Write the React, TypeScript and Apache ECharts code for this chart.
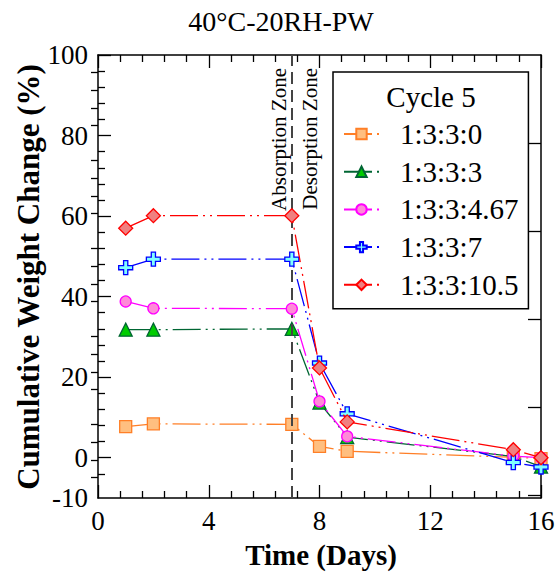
import React, { useEffect, useRef } from "react";
import * as echarts from "echarts";

const days = [1, 2, 7, 8, 9, 15, 16];
const seriesNames = ["1:3:3:0", "1:3:3:3", "1:3:3:4.67", "1:3:3:7", "1:3:3:10.5"];
const v0 = [7.7, 8.4, 8.3, 2.8, 1.6, 0.1, -0.2];
const v3 = [31.8, 31.8, 32.0, 13.7, 5.1, 0.3, -2.2];
const v467 = [38.8, 37.1, 37.0, 14.0, 5.3, 0.4, 0.0];
const v7 = [47.2, 49.3, 49.3, 23.5, 10.9, -1.2, -2.3];
const v105 = [57.0, 60.1, 60.1, 22.3, 8.9, 2.0, 0.0];

const xTicks = [0, 4, 8, 12, 16];
const yLabels = [-10, 0, 20, 40, 60, 80, 100];
const yMajor = [0, 20, 40, 60, 80, 100];
const yMinor = [-4, 4, 8, 12, 16, 24, 28, 32, 36, 44, 48, 52, 56, 64, 68, 72, 76, 84, 88, 92, 96];
const rightMajor = [78.15, 56.3, 34.45, 12.6, -9.25];
const rightMinor = [95.63, 91.26, 86.89, 82.52, 73.78, 69.41, 65.04, 60.67, 51.93, 47.56, 43.19, 38.82, 30.08, 25.71, 21.34, 16.97, 8.23, 3.86, -0.51, -4.88];

const FONT = "Liberation Serif";
const crossPath = "path://M3.5,0 H6.5 V3.5 H10 V6.5 H6.5 V10 H3.5 V6.5 H0 V3.5 H3.5 Z";

const styles = [
  { line: "#ff7f27", fill: "#ffbf80", border: "#ff7f27", symbol: "rect", size: 12 },
  { line: "#006633", fill: "#00cc00", border: "#006633", symbol: "triangle", size: 13 },
  { line: "#ff00ff", fill: "#ff8ad8", border: "#ff00ff", symbol: "circle", size: 11 },
  { line: "#0000ff", fill: "#80ffff", border: "#0000ff", symbol: crossPath, size: 14 },
  { line: "#ff0000", fill: "#f08080", border: "#ff0000", symbol: "diamond", size: 14 },
];
const values = [v0, v3, v467, v7, v105];

export default function App() {
  const ref = useRef<HTMLDivElement>(null);
  useEffect(() => {
    if (!ref.current) return;
    const chart = echarts.init(ref.current, undefined, { renderer: "svg" });
    const axisLine = { show: true, onZero: false, lineStyle: { color: "#000", width: 1.5 } };
    const tickStyle = { color: "#000", width: 1.3 };
    const xBase = { type: "value", min: 0, max: 16, interval: 4, splitLine: { show: false } };
    const yBase = { type: "value", min: -10, max: 100, splitLine: { show: false } };
    const series: any[] = seriesNames.map((name, i) => ({
      name,
      type: "line",
      xAxisIndex: 0,
      yAxisIndex: 0,
      data: days.map((d, j) => [d, values[i][j]]),
      symbol: styles[i].symbol,
      symbolSize: styles[i].size,
      lineStyle: { color: styles[i].line, width: 1.3, type: [28, 5, 2, 5, 2, 5] },
      itemStyle: { color: styles[i].fill, borderColor: styles[i].border, borderWidth: 1.3 },
      z: 3 + i,
    }));
    series[0].markLine = {
      silent: true,
      symbol: "none",
      label: { show: false },
      lineStyle: { color: "#444", width: 2, type: [12, 6] },
      data: [{ xAxis: 7 }],
    };
    const txt = (text: string, x: number, y: number, fontSize: number, extra: any = {}, styleExtra: any = {}) => ({
      type: "text",
      x,
      y,
      ...extra,
      style: { text, fontSize, fontFamily: FONT, fill: "#000", ...styleExtra },
    });
    chart.setOption({
      animation: false,
      backgroundColor: "#fff",
      textStyle: { fontFamily: FONT },
      grid: { left: 98, right: 17, top: 55, bottom: 79, containLabel: false },
      xAxis: [
        {
          ...xBase,
          position: "bottom",
          axisLine,
          axisTick: { show: true, inside: true, length: 13, lineStyle: tickStyle },
          minorTick: { show: true, splitNumber: 5, length: 7, lineStyle: tickStyle },
          axisLabel: { fontSize: 27, color: "#000", fontFamily: FONT, margin: 9, customValues: xTicks },
        },
        {
          ...xBase,
          position: "top",
          axisLine,
          axisTick: { show: true, inside: true, length: 13, lineStyle: tickStyle },
          minorTick: { show: true, splitNumber: 5, length: 7, lineStyle: tickStyle },
          axisLabel: { show: false },
        },
      ],
      yAxis: [
        {
          ...yBase,
          position: "left",
          axisLine,
          axisTick: { show: true, inside: true, length: 13, lineStyle: tickStyle, customValues: yMajor },
          axisLabel: { fontSize: 27, color: "#000", fontFamily: FONT, margin: 10, customValues: yLabels },
        },
        {
          ...yBase,
          position: "left",
          axisLine: { show: false },
          axisTick: { show: true, inside: true, length: 7, lineStyle: tickStyle, customValues: yMinor },
          axisLabel: { show: false },
        },
        {
          ...yBase,
          position: "right",
          axisLine,
          axisTick: { show: true, inside: true, length: 13, lineStyle: tickStyle, customValues: rightMajor },
          axisLabel: { show: false },
        },
        {
          ...yBase,
          position: "right",
          axisLine: { show: false },
          axisTick: { show: true, inside: true, length: 7, lineStyle: tickStyle, customValues: rightMinor },
          axisLabel: { show: false },
        },
      ],
      legend: {
        data: seriesNames,
        orient: "vertical",
        left: 333,
        top: 72,
        padding: [47, 10, 9, 10],
        itemWidth: 35,
        itemHeight: 13,
        itemGap: 7.7,
        borderColor: "#000",
        borderWidth: 1.5,
        backgroundColor: "#fff",
        textStyle: { fontSize: 29, color: "#000", fontFamily: FONT, lineHeight: 30, padding: [0, 0, 0, 16] },
      },
      graphic: [
        txt("40°C-20RH-PW", 281, 21, 28, {}, { textAlign: "center", textVerticalAlign: "middle" }),
        txt("Cycle 5", 431, 97, 29, { z: 100 }, { textAlign: "center", textVerticalAlign: "middle" }),
        txt("Absorption Zone", 279, 68, 21, { rotation: Math.PI / 2 }, { textAlign: "right", textVerticalAlign: "middle" }),
        txt("Desorption Zone", 310, 68, 21, { rotation: Math.PI / 2 }, { textAlign: "right", textVerticalAlign: "middle" }),
        txt("Cumulative Weight Change (%)", 28, 277, 31, { rotation: Math.PI / 2 }, { fontWeight: "bold", textAlign: "center", textVerticalAlign: "middle" }),
        txt("Time (Days)", 321, 555, 29, {}, { fontWeight: "bold", textAlign: "center", textVerticalAlign: "middle" }),
      ],
      series,
    });
    return () => chart.dispose();
  }, []);
  return <div ref={ref} style={{ position: "fixed", left: 0, top: 0, width: 558, height: 577 }} />;
}
